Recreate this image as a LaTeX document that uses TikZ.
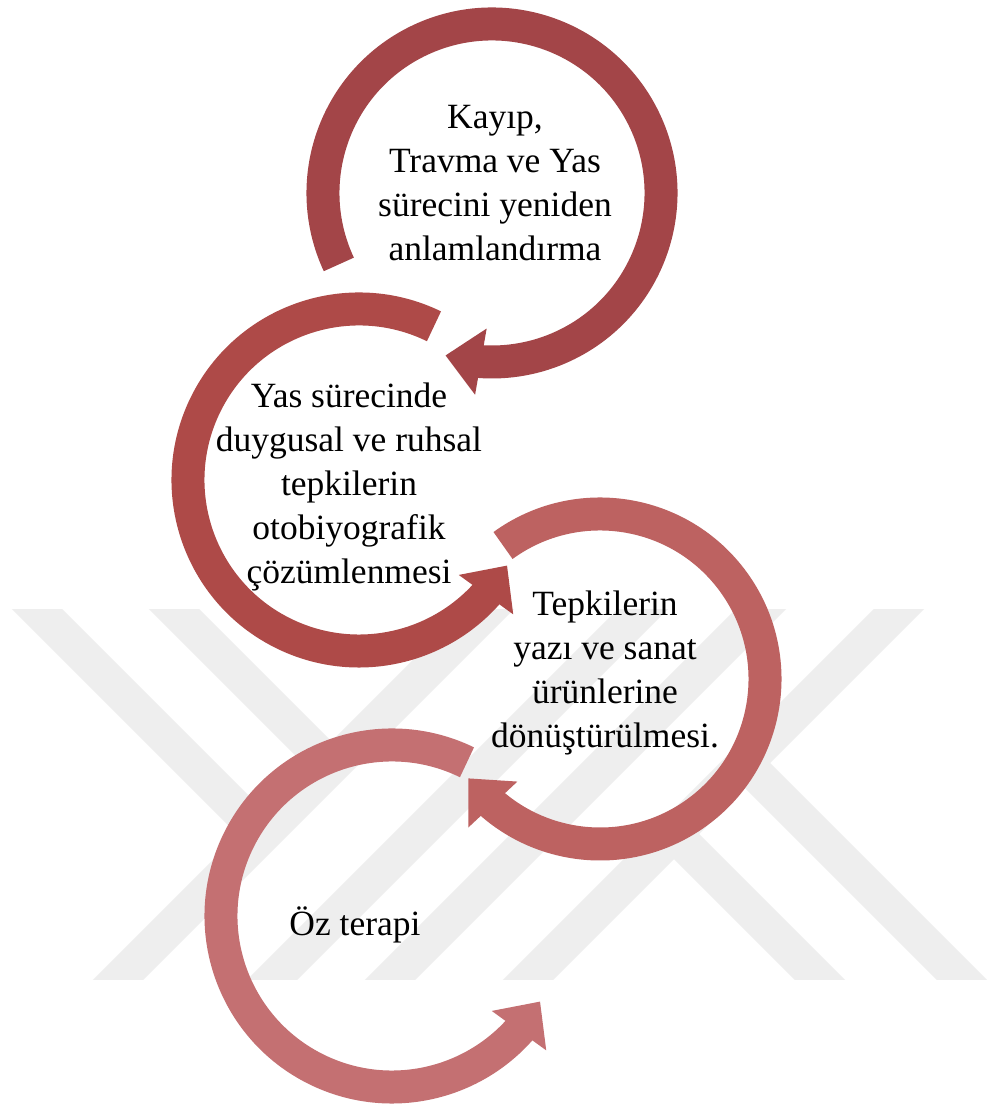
\documentclass[tikz,border=0pt]{standalone}
\usepackage{fontspec}
\setmainfont{Liberation Serif}
\usetikzlibrary{arrows.meta,bending}
\definecolor{arcone}{RGB}{163,69,72}
\definecolor{arctwo}{RGB}{174,74,72}
\definecolor{arcthree}{RGB}{189,98,97}
\definecolor{arcfour}{RGB}{196,112,114}
\definecolor{wmgray}{RGB}{238,238,238}
\begin{document}
\begin{tikzpicture}[x=0.02cm, y=0.02cm,
    arrowband/.style={line width=0.66cm, -{Triangle[flex, length=0.72cm, width=1.3cm]}},
    wmband/.style={wmgray, line width=0.71cm},
    steptext/.style={align=center, inner sep=0pt, font=\fontsize{20.2pt}{25pt}\selectfont}]
        \useasboundingbox (0,0) rectangle (987,1108);
        \fill[white] (0,0) rectangle (987,1108);
        % watermark in the background
        \begin{scope}
            \clip (0,128) rectangle (987,498);
            \draw[wmband] (98,108)  -- (508,518);
            \draw[wmband] (252,108) -- (662,518);
            \draw[wmband] (370,108) -- (780,518);
            \draw[wmband] (508,108) -- (918,518);
            \draw[wmband] (18,518)  -- (263,273);
            \draw[wmband] (155,518) -- (331,342);
            \draw[wmband] (674,274) -- (840,108);
            \draw[wmband] (745,345) -- (982,108);
        \end{scope}
        % coordinates for the circle centres
        \coordinate (c1) at (492,915);
        \coordinate (c2) at (359,628);
        \coordinate (c3) at (600,429);
        \coordinate (c4) at (392,192);
        % drawing the circular arrows
        \draw[arrowband, arcone]   ([shift={(205:169)}]c1) arc[start angle=205, end angle=-106, radius=169];
        \draw[arrowband, arctwo]   ([shift={(64:171)}]c2)  arc[start angle=64,  end angle=330,  radius=171];
        \draw[arrowband, arcthree] ([shift={(126:165)}]c3) arc[start angle=126, end angle=-143, radius=165];
        \draw[arrowband, arcfour]  ([shift={(64:171)}]c4)  arc[start angle=64,  end angle=330,  radius=171];
        % texts
        \node[steptext] (kayip) at (495,925) {Kayıp,\\Travma ve Yas\\sürecini yeniden\\anlamlandırma};
        \node[steptext] (yas)   at (349,621) {Yas sürecinde\\duygusal ve ruhsal\\tepkilerin\\otobiyografik\\çözümlenmesi};
        \node[steptext] (tepki) at (605,435) {Tepkilerin\\yazı ve sanat\\ürünlerine\\dönüştürülmesi.};
        \node[steptext] (oz)    at (355,183) {Öz terapi};
\end{tikzpicture}
\end{document}
